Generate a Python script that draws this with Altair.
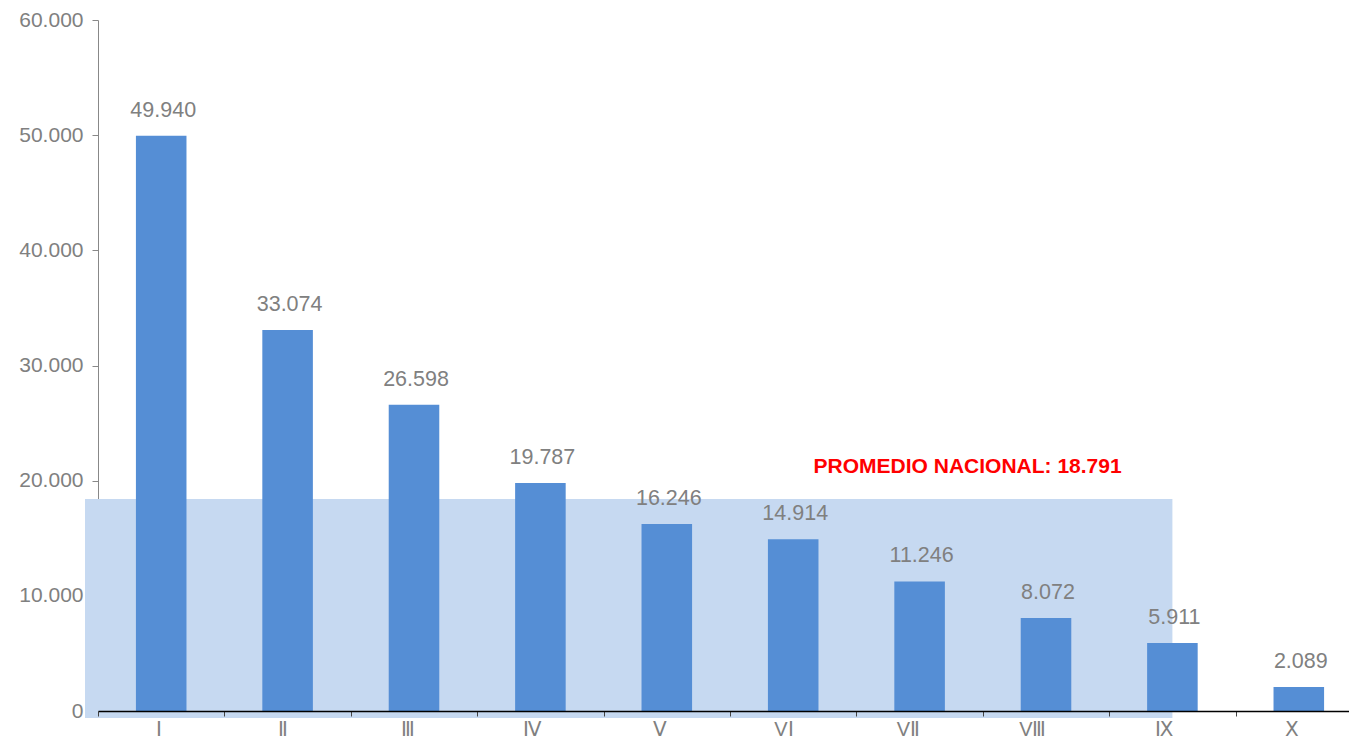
import altair as alt
import pandas as pd

categories = ["Ⅰ", "Ⅱ", "Ⅲ", "Ⅳ", "Ⅴ", "VⅠ", "VⅡ", "VⅢ", "Ⅸ", "Ⅹ"]
values = [49940, 33074, 26598, 19787, 16246, 14914, 11246, 8072, 5911, 2089]
national_avg = 18791
avg_band_top = 18400          # top of the shaded band
band_first = "Ⅰ"
band_last = "Ⅸ"
note_cat = "VⅡ"
note_value = 20650
y_ticks = [0, 10000, 20000, 30000, 40000, 50000, 60000]

FONT = "Liberation Sans"
GRAY = "#808080"

bars_df = pd.DataFrame({"cat": categories, "value": values})
band_df = pd.DataFrame({"c1": [band_first], "c2": [band_last], "top": [avg_band_top], "bottom": [0]})
note_df = pd.DataFrame({"cat": [note_cat], "v": [note_value],
                        "label": ["PROMEDIO NACIONAL: 18.791"]})

xscale = alt.Scale(domain=categories, paddingInner=0, paddingOuter=0, range=[0, 1264])
yscale = alt.Scale(domain=[0, 60000], nice=False)

band = alt.Chart(band_df).mark_rect(color="#C6D9F1", xOffset=-13, y2Offset=7).encode(
    x=alt.X("c1:N", scale=xscale, bandPosition=0, title=None),
    x2=alt.X2("c2:N", bandPosition=0.5),
    y=alt.Y("top:Q", scale=yscale, title=None),
    y2="bottom:Q",
)

bars = alt.Chart(bars_df).mark_bar(color="#558ED5", width={"band": 0.4}).encode(
    x=alt.X("cat:N", scale=xscale, sort=None, title=None,
            axis=alt.Axis(labelAngle=0, domainColor="#000000", domainWidth=1.5,
                          tickColor="#444444", tickSize=5, tickBand="extent",
                          labelColor=GRAY, labelFontSize=20, labelFont=FONT,
                          labelPadding=13)),
    y=alt.Y("value:Q", scale=yscale, title=None,
            axis=alt.Axis(values=y_ticks, format=",d", grid=False,
                          domainColor="#888888", tickColor="#888888", tickSize=6,
                          labelColor=GRAY, labelFontSize=21, labelFont=FONT,
                          labelPadding=9)),
)

labels = alt.Chart(bars_df).mark_text(
    font=FONT, fontSize=21.5, color=GRAY, baseline="alphabetic", dy=-19, dx=2
).encode(
    x=alt.X("cat:N", scale=xscale, sort=None),
    y=alt.Y("value:Q", scale=yscale),
    text=alt.Text("value:Q", format=",d"),
)

note = alt.Chart(note_df).mark_text(
    font=FONT, fontSize=21, fontWeight="bold", color="#FF0000",
    baseline="alphabetic", align="center"
).encode(
    x=alt.X("cat:N", scale=xscale, bandPosition=0.88),
    y=alt.Y("v:Q", scale=yscale),
    text="label:N",
)

chart = alt.layer(band, bars, labels, note).properties(
    width=1251, height=691,
    autosize=alt.AutoSizeParams(type="none"),
    padding={"left": 90, "top": 12, "right": 0, "bottom": 33},
).configure(
    view=alt.ViewConfig(stroke=None),
    locale={"number": {"decimal": ",", "thousands": ".", "grouping": [3],
                       "currency": ["", ""]}},
)

chart.save("out.html", embed_options={"renderer": "svg", "actions": False})
